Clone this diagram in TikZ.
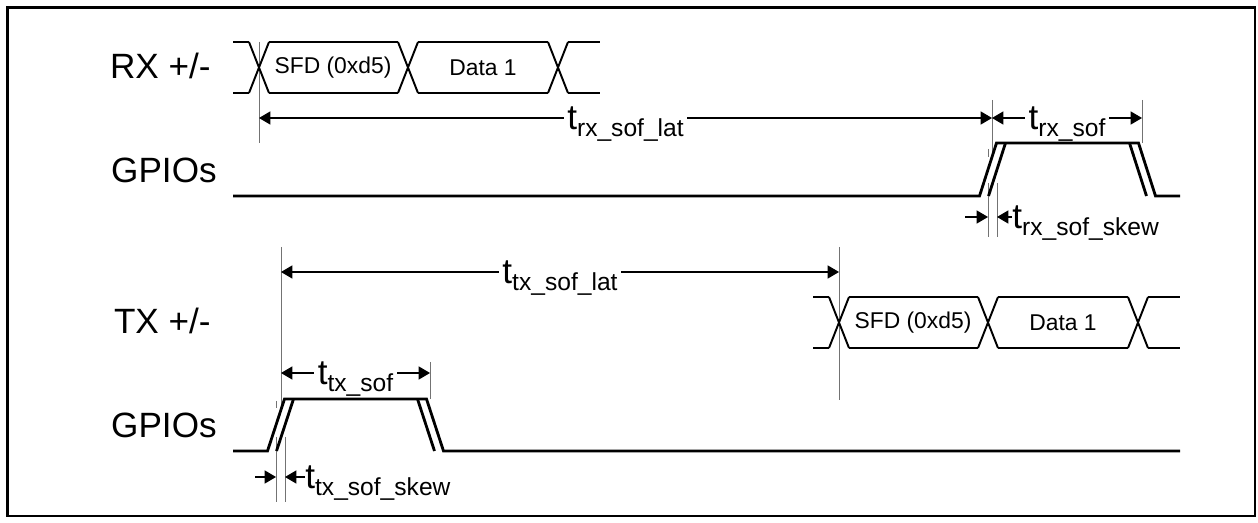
\documentclass[tikz,border=0pt]{standalone}
\usepackage{amsmath}
\usepackage{fontspec}
\setmainfont{Liberation Sans}
\usetikzlibrary{arrows.meta}
\newcommand{\tsub}[1]{t\raisebox{-4.5pt}{\fontsize{14}{16}\selectfont #1}}

\begin{document}
\begin{tikzpicture}[x=0.02cm, y=-0.02cm,
  >={Triangle[length=6.5pt,width=7.5pt]},
  sig/.style={line width=1.6pt},
  bus/.style={line width=1.1pt},
  vref/.style={black!55, line width=0.5pt},
  dim/.style={line width=0.6pt},
  signame/.style={font=\fontsize{20}{24}\selectfont, inner sep=0pt},
  busval/.style={font=\fontsize{13}{15}\selectfont},
  tlab/.style={fill=white, inner xsep=2pt, inner ysep=1pt, anchor=base, yshift=-6.3pt, font=\fontsize{20}{24}\selectfont}]
\useasboundingbox (0,0) rectangle (1258,523);
\draw [line width=1.2pt] (7.5,7.5) rectangle (1255,516);

% signal names
\node (rxname) [signame, anchor=base east] at (211,79) {RX +/-};
\node (rxgpio) [signame, anchor=base east] at (217,183) {GPIOs};
\node (txname) [signame, anchor=base east] at (211,334) {TX +/-};
\node (txgpio) [signame, anchor=base east] at (217,438) {GPIOs};

% reference lines
\coordinate (rxsof) at (259,118);
\coordinate (rxgo) at (992,118);
\coordinate (rxend) at (1142,118);
\coordinate (txsof) at (839,272);
\coordinate (txgo) at (281,272);
\coordinate (txgo2) at (281,373);
\coordinate (txend) at (430,373);
\draw [vref] (259,42) -- (259,143);
\draw [vref] (992,100) -- (992,152);
\draw [vref] (1142,100) -- (1142,143);
\draw [vref] (988,149) -- (988,157);
\draw [vref] (988,183) -- (988,237) (997,183) -- (997,237);
\draw [vref] (839,247) -- (839,400);
\draw [vref] (281,247) -- (281,405);
\draw [vref] (430,362) -- (430,399);
\draw [vref] (276,401) -- (276,408);
\draw [vref] (276,437) -- (276,502) (285,437) -- (285,502);

% timing
\draw [dim, <->] (rxsof) -- node [tlab] {\tsub{rx\_sof\_lat}} (rxgo);
\draw [dim, <->] (rxgo) -- node [tlab] {\tsub{rx\_sof}} (rxend);
\draw [dim, <->] (txgo) -- node [tlab] {\tsub{tx\_sof\_lat}} (txsof);
\draw [dim, <->] (txgo2) -- node [tlab] {\tsub{tx\_sof}} (txend);

% skew
\coordinate (rxskA) at (988,217);
\coordinate (rxskB) at (997,217);
\coordinate (rxskL) at (965,217);
\node (rxskew) [tlab, anchor=base west, fill=none, inner xsep=0pt] at (1012,217) {\tsub{rx\_sof\_skew}};
\draw [dim, ->] (rxskL) -- (rxskA);
\draw [dim, ->] (rxskew.west |- rxskB) -- (rxskB);
\coordinate (txskA) at (276,477);
\coordinate (txskB) at (285,477);
\coordinate (txskL) at (255,477);
\node (txskew) [tlab, anchor=base west, fill=none, inner xsep=0pt] at (305,477) {\tsub{tx\_sof\_skew}};
\draw [dim, ->] (txskL) -- (txskA);
\draw [dim, ->] (txskew.west |- txskB) -- (txskB);

% RX bus
\foreach \c in {259,408,558}
  \draw [bus] (\c-10,42) -- (\c+10,93) (\c-10,93) -- (\c+10,42);
\foreach \y in {42,93}
  \draw [bus] (233,\y) -- (249,\y) (269,\y) -- (398,\y) (418,\y) -- (548,\y) (568,\y) -- (600,\y);
\node (rxsfd) [busval] at (333,67.5) {SFD (0xd5)};
\node (rxdata) [busval] at (483,67.5) {Data 1};

% TX bus
\foreach \c in {839,988,1138}
  \draw [bus] (\c-10,297) -- (\c+10,348) (\c-10,348) -- (\c+10,297);
\foreach \y in {297,348}
  \draw [bus] (813,\y) -- (829,\y) (849,\y) -- (978,\y) (998,\y) -- (1128,\y) (1148,\y) -- (1180,\y);
\node (txsfd) [busval] at (913,322.5) {SFD (0xd5)};
\node (txdata) [busval] at (1063,322.5) {Data 1};

% RX GPIO pulse
\draw [sig] (233,196) -- (979.5,196) -- (996.5,143) -- (1138.5,143) -- (1155.5,196) -- (1180,196);
\draw [sig] (988.5,196) -- (1005.5,143) (1129.5,143) -- (1146.5,196);

% TX GPIO pulse
\draw [sig] (233,451) -- (267.5,451) -- (284.5,399) -- (426.5,399) -- (443.5,451) -- (1180,451);
\draw [sig] (276.5,451) -- (293.5,399) (417.5,399) -- (434.5,451);
\end{tikzpicture}
\end{document}
